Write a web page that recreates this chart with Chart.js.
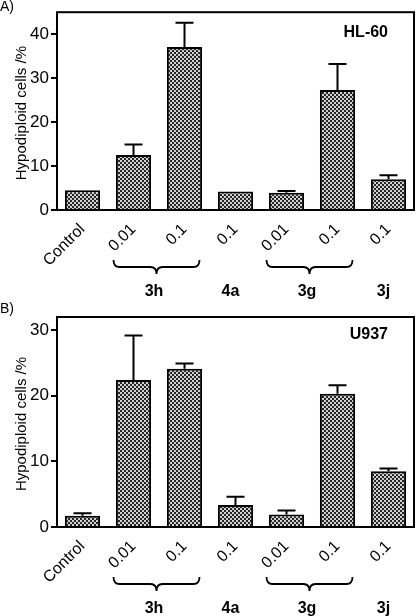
<!DOCTYPE html>
<html>
<head>
<meta charset="utf-8">
<script src="https://cdn.jsdelivr.net/npm/chart.js@4"></script>
<style>
  html, body { margin: 0; padding: 0; background: #fff; }
  .panel { position: relative; width: 420px; }
  .panel canvas { display: block; }
</style>
</head>
<body>
<div class="panel" style="height:300px"><canvas id="chartA" width="420" height="300"></canvas></div>
<div class="panel" style="height:316px"><canvas id="chartB" width="420" height="316"></canvas></div>
<script>
// data
const categories = ["Control", "0.01", "0.1", "0.1", "0.01", "0.1", "0.1"];
const hl60Values = [4.5, 12.5, 37.1, 4.2, 3.9, 27.3, 7.0];
const hl60Upper = [4.6, 14.9, 42.6, 4.2, 4.3, 33.2, 7.9];
const hl60Ticks = [0, 10, 20, 30, 40];
const u937Values = [1.7, 22.4, 24.1, 3.35, 1.9, 20.3, 8.5];
const u937Upper = [2.1, 29.2, 24.9, 4.6, 2.5, 21.6, 8.9];
const u937Ticks = [0, 10, 20, 30];
const groupLabels = ["3h", "4a", "3g", "3j"];
const groupStart = [1, 3, 4, 6];
const groupEnd = [2, 3, 5, 6];

const FONT = "'Liberation Sans', Arial, sans-serif";

function makePattern() {
  const c = document.createElement("canvas");
  c.width = 4; c.height = 4;
  const g = c.getContext("2d");
  g.fillStyle = "#262626";
  g.fillRect(0, 0, 4, 4);
  g.fillStyle = "#d0d0d0";
  g.fillRect(0, 0, 2, 2);
  g.fillRect(2, 2, 2, 2);
  return g.createPattern(c, "repeat");
}

function brace(ctx, x1, x2, y, h) {
  const xm = (x1 + x2) / 2;
  const r = 6;
  ctx.beginPath();
  ctx.moveTo(x1, y);
  ctx.quadraticCurveTo(x1, y + h / 2, x1 + r, y + h / 2);
  ctx.lineTo(xm - r, y + h / 2);
  ctx.quadraticCurveTo(xm, y + h / 2, xm, y + h);
  ctx.quadraticCurveTo(xm, y + h / 2, xm + r, y + h / 2);
  ctx.lineTo(x2 - r, y + h / 2);
  ctx.quadraticCurveTo(x2, y + h / 2, x2, y);
  ctx.stroke();
}

const extrasPlugin = {
  id: "extras",
  afterDatasetsDraw(chart, args, opts) {
    const ctx = chart.ctx;
    const x = chart.scales.x, y = chart.scales.y;
    const area = chart.chartArea;
    ctx.save();
    ctx.strokeStyle = "#000";
    ctx.lineWidth = 2;
    // upper error bars
    opts.upper.forEach((u, i) => {
      const cx = x.getPixelForValue(i);
      const yt = y.getPixelForValue(opts.values[i]);
      const yu = y.getPixelForValue(u);
      if (yt - yu < 1) return;
      ctx.beginPath();
      ctx.moveTo(cx, yt);
      ctx.lineTo(cx, yu);
      ctx.moveTo(cx - 9, yu);
      ctx.lineTo(cx + 9, yu);
      ctx.stroke();
    });
    // frame
    ctx.strokeRect(area.left, area.top, area.right - area.left, area.bottom - area.top);
    ctx.fillStyle = "#000";
    // y axis title
    ctx.save();
    ctx.translate(22, (area.top + area.bottom) / 2 + 2);
    ctx.rotate(-Math.PI / 2);
    ctx.font = "15px " + FONT;
    ctx.textAlign = "center";
    ctx.textBaseline = "middle";
    ctx.fillText("Hypodiploid cells /%", 0, 0);
    ctx.restore();
    // cell line name
    ctx.font = "bold 16px " + FONT;
    ctx.textAlign = "right";
    ctx.textBaseline = "middle";
    ctx.fillText(opts.title, area.right - 26, area.top + opts.titleDy);
    // panel letter
    ctx.font = "14px " + FONT;
    ctx.textAlign = "left";
    ctx.textBaseline = "top";
    ctx.fillText(opts.letter, 0, opts.letterY);
    // braces and compound labels
    ctx.lineWidth = 1.8;
    ctx.font = "bold 16px " + FONT;
    ctx.textAlign = "center";
    ctx.textBaseline = "middle";
    groupLabels.forEach((lab, k) => {
      const a = x.getPixelForValue(groupStart[k]);
      const b = x.getPixelForValue(groupEnd[k]);
      if (groupEnd[k] > groupStart[k]) {
        brace(ctx, a - 20, b + 15, area.bottom + 50, 14);
      }
      ctx.fillText(lab, (a + b) / 2 - 5, area.bottom + 82);
    });
    ctx.restore();
  }
};

function buildChart(canvas, values, upper, yMax, tickValues, top, bottom, title, letter, titleDy, letterY) {
  return new Chart(canvas, {
    type: "bar",
    data: {
      labels: categories,
      datasets: [{
        data: values,
        backgroundColor: makePattern(),
        borderColor: "#000",
        borderWidth: 2,
        categoryPercentage: 1,
        barPercentage: 0.69
      }]
    },
    options: {
      responsive: false,
      animation: false,
      layout: { padding: { top: top, right: 6, left: 0, bottom: 0 } },
      plugins: {
        legend: { display: false },
        tooltip: { enabled: false },
        extras: { values: values, upper: upper, title: title, letter: letter, titleDy: titleDy, letterY: letterY }
      },
      scales: {
        x: {
          grid: { display: false },
          border: { display: false },
          ticks: {
            color: "#000",
            font: { family: FONT, size: 16 },
            minRotation: 45,
            maxRotation: 45,
            padding: 2
          },
          afterFit(scale) { scale.height = bottom; }
        },
        y: {
          min: 0,
          max: yMax,
          grid: { drawOnChartArea: false, drawTicks: true, tickLength: 6, color: "#000", lineWidth: 2 },
          border: { display: false },
          ticks: {
            color: "#000",
            font: { family: FONT, size: 17 },
            padding: 2
          },
          afterBuildTicks(scale) { scale.ticks = tickValues.map(v => ({ value: v })); },
          afterFit(scale) { scale.width = 57; }
        }
      }
    },
    plugins: [extrasPlugin]
  });
}

buildChart(document.getElementById("chartA"), hl60Values, hl60Upper, 45, hl60Ticks, 12, 90, "HL-60", "A)", 20, 0);
buildChart(document.getElementById("chartB"), u937Values, u937Upper, 32, u937Ticks, 17, 89, "U937", "B)", 18, 2);
</script>
</body>
</html>
